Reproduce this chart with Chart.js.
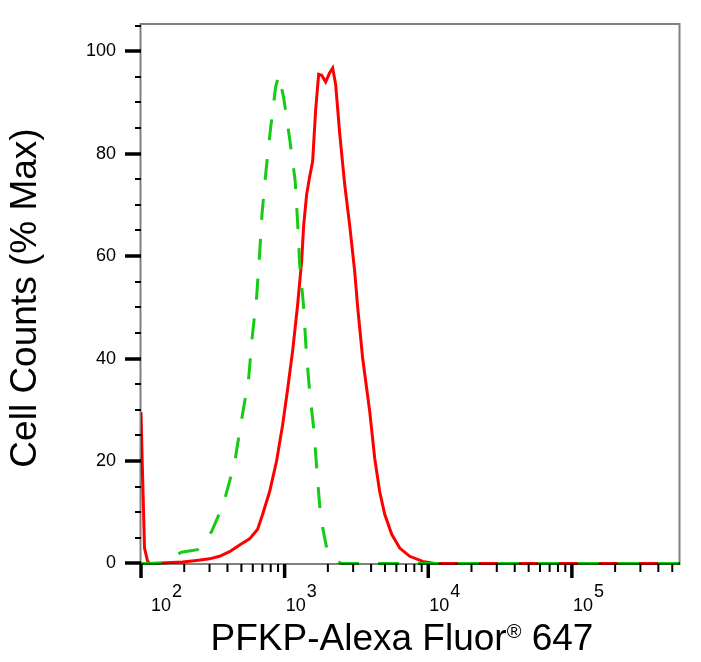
<!DOCTYPE html>
<html>
<head>
<meta charset="utf-8">
<script src="https://cdn.jsdelivr.net/npm/chart.js@4.4.1/dist/chart.umd.min.js"></script>
<style>
    html, body { margin: 0; padding: 0; background: #fff; }
    #wrap { width: 701px; height: 662px; }
</style>
</head>
<body>
<div id="wrap"><canvas id="histChart" width="701" height="662"></canvas></div>
<script>
// Stained sample (red, solid) - fluorescence intensity vs % of max
const redX = [100, 102.4, 105.8, 111, 114.6, 194.6, 243.6, 300, 352, 414, 486, 570, 649, 703, 786, 879, 968, 1049, 1137, 1232,
    1314, 1357, 1423, 1494, 1567, 1644, 1726, 1810, 1931, 2059, 2160, 2266, 2417, 2619, 2838, 3075, 3227, 3496, 3912, 4240,
    4592, 4977, 5567, 6329, 7432, 9156, 11100, 566000];
const redY = [29.5, 18, 3, 0.5, 0, 0.3, 0.6, 0.9, 1.4, 2.3, 3.6, 4.8, 6.7, 9.6, 14, 20, 27, 34, 41.5, 50.5,
    59, 66, 72, 75.5, 78.5, 88.5, 95.5, 95.3, 94, 95.8, 96.7, 93.5, 84, 74, 66, 57, 50, 40, 29.7, 20.5,
    14, 9.6, 5.7, 3, 1.4, 0.4, 0, 0];

// Isotype control (green, dashed)
const greenX = [100, 134.6, 145.8, 165.8, 191.5, 247.6, 277, 309.9, 372.8, 448.3, 497.6, 561.2, 593.6, 638.2, 669.7,
    697.1, 743.1, 798.8, 865.7, 908.4, 984, 1083, 1184, 1232, 1272, 1357, 1412, 1494, 1606, 1685, 1782, 1962, 2231, 2497, 566000];
const greenY = [0, 0, 0.2, 1.2, 2.2, 2.7, 4.4, 6.2, 11.4, 19.6, 27.5, 36, 44, 52, 60.4,
    68.5, 76.8, 85, 93, 95.3, 91, 83, 74.7, 66.5, 58.5, 50, 41.7, 33.5, 25.5, 17.3, 9, 3, 0.7, 0, 0];

// Axis ticks and labels
const xDecades = [2, 3, 4, 5];
const yLabelTicks = [0, 20, 40, 60, 80, 100];
const xTitle = 'PFKP-Alexa Fluor';
const xTitleMark = '®';
const xTitleTail = ' 647';
const yTitle = 'Cell Counts (% Max)';

const FONT = '"Liberation Sans", Arial, Helvetica, sans-serif';

function toPoints(xs, ys) {
    return xs.map((v, i) => ({ x: v, y: ys[i] }));
}

// Draws the frame, ticks, labels and titles using the chart's own scales
const flowAxes = {
    id: 'flowAxes',
    afterDatasetsDraw(chart) {
        const { ctx, chartArea: ca, scales } = chart;
        const xs = scales.x, ys = scales.y;
        const base = ca.bottom - 1;
        ctx.save();

        // grey frame, multiplied so the curves sitting on zero darken it
        ctx.globalCompositeOperation = 'multiply';
        ctx.strokeStyle = '#808080';
        ctx.lineWidth = 2;
        ctx.strokeRect(ca.left - 0.5, ca.top, ca.right - ca.left, base - ca.top);
        ctx.globalCompositeOperation = 'source-over';

        // y ticks every 5, long ones every 20
        ctx.strokeStyle = '#000';
        for (let v = 0; v <= ys.max; v += 5) {
            const py = Math.round(ys.getPixelForValue(v));
            const major = v % 20 === 0;
            ctx.lineWidth = major ? 3.5 : 2;
            ctx.beginPath();
            ctx.moveTo(major ? ca.left - 16 : ca.left - 6, py);
            ctx.lineTo(ca.left, py);
            ctx.stroke();
        }
        ctx.fillStyle = '#000';
        ctx.font = '18px ' + FONT;
        ctx.textAlign = 'right';
        ctx.textBaseline = 'middle';
        yLabelTicks.forEach(v => {
            ctx.fillText(String(v), ca.left - 25, ys.getPixelForValue(v));
        });

        // x ticks on a log scale
        for (let n = xDecades[0]; n <= xDecades[xDecades.length - 1]; n++) {
            for (let k = 1; k <= 9; k++) {
                const v = k * Math.pow(10, n);
                if (v > xs.max) break;
                const px = xs.getPixelForValue(v);
                ctx.lineWidth = k === 1 ? 3.5 : 2;
                ctx.beginPath();
                ctx.moveTo(px, base);
                ctx.lineTo(px, k === 1 ? base + 14 : base + 8);
                ctx.stroke();
            }
        }
        ctx.textAlign = 'left';
        ctx.textBaseline = 'alphabetic';
        ctx.font = '18px ' + FONT;
        xDecades.forEach(n => {
            const px = xs.getPixelForValue(Math.pow(10, n));
            const lx = Math.max(px + 1, ca.left + 10);
            ctx.fillText('10', lx, 611);
            ctx.fillText(String(n), lx + ctx.measureText('10').width + 1, 597);
        });

        // axis titles
        ctx.font = '37px ' + FONT;
        const wHead = ctx.measureText(xTitle).width;
        const wTail = ctx.measureText(xTitleTail).width;
        ctx.font = '20px ' + FONT;
        const wMark = ctx.measureText(xTitleMark).width;
        let tx = 402 - (wHead + wMark + wTail) / 2;
        ctx.font = '37px ' + FONT;
        ctx.fillText(xTitle, tx, 650);
        tx += wHead;
        ctx.font = '20px ' + FONT;
        ctx.fillText(xTitleMark, tx, 638);
        tx += wMark;
        ctx.font = '37px ' + FONT;
        ctx.fillText(xTitleTail, tx, 650);

        ctx.translate(26, 298);
        ctx.rotate(-Math.PI / 2);
        ctx.textAlign = 'center';
        ctx.textBaseline = 'middle';
        ctx.fillText(yTitle, 0, 0);
        ctx.restore();
    }
};

new Chart(document.getElementById('histChart'), {
    type: 'line',
    data: {
        datasets: [{
            label: 'Isotype control',
            data: toPoints(greenX, greenY),
            borderColor: '#14cc14',
            borderWidth: 3,
            borderDash: [21, 19],
            borderCapStyle: 'butt',
            pointRadius: 0,
            tension: 0,
            fill: false
        }, {
            label: 'PFKP',
            data: toPoints(redX, redY),
            borderColor: '#ff0000',
            borderWidth: 3,
            pointRadius: 0,
            tension: 0,
            fill: false
        }]
    },
    options: {
        responsive: false,
        animation: false,
        devicePixelRatio: 1,
        events: [],
        layout: { padding: { left: 141, right: 21, top: 24, bottom: 97 } },
        scales: {
            x: { type: 'logarithmic', min: 100, max: 566000, display: false },
            y: { type: 'linear', min: -0.3, max: 105.3, display: false }
        },
        plugins: {
            legend: { display: false },
            tooltip: { enabled: false }
        }
    },
    plugins: [flowAxes]
});
</script>
</body>
</html>
